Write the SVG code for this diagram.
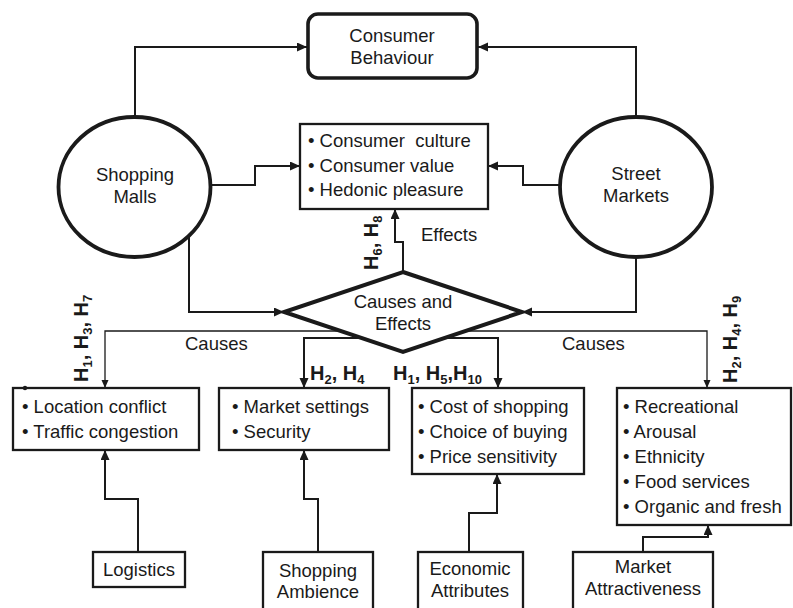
<svg xmlns="http://www.w3.org/2000/svg" width="793" height="608" viewBox="0 0 793 608">
<defs>
<marker id="ah" markerUnits="userSpaceOnUse" markerWidth="11" markerHeight="10" refX="10" refY="4.5" orient="auto"><path d="M0,0 L10,4.5 L0,9 z" fill="#1a1a1a"/></marker>
<marker id="ahs" markerUnits="userSpaceOnUse" markerWidth="9" markerHeight="8" refX="8" refY="3.5" orient="auto"><path d="M0,0 L8,3.5 L0,7 z" fill="#1a1a1a"/></marker>
</defs>
<style>
text{font-family:"Liberation Sans",Arial,sans-serif;font-size:18.5px;fill:#1a1a1a}
.c{text-anchor:middle}
.h{font-weight:bold;font-size:20px}
.s{font-size:13px}
.box{fill:#fff;stroke:#1a1a1a;stroke-width:2.3}
.ell{fill:#fff;stroke:#1a1a1a;stroke-width:3.8}
.con{fill:none;stroke:#1a1a1a;stroke-width:2;marker-end:url(#ah)}
.thin{fill:none;stroke:#1a1a1a;stroke-width:1.3;marker-end:url(#ahs)}
</style>
<rect width="793" height="608" fill="#fff"/>
<g id="connectors">
<path class="con" d="M135,117 V47 H307"/>
<path class="con" d="M636,117 V47 H478"/>
<path class="con" d="M210,185 H255 V166 H300"/>
<path class="con" d="M560,185 H523 V166 H488"/>
<path class="con" d="M189,236 V312 H284"/>
<path class="con" d="M636,257 V312 H522"/>
<path class="con" d="M403,272 V242 H395 V209"/>
<path class="thin" d="M340,331 H105 V388"/>
<path class="thin" d="M466,331 H707 V388"/>
<path class="con" d="M361,338 H304 V388"/>
<path class="con" d="M445,338 H498 V388"/>
<path class="con" d="M138,552 V499 H105 V450"/>
<path class="con" d="M318,552 V499 H304 V450"/>
<path class="con" d="M469,552 V513 H497 V474"/>
<path class="con" d="M643,552 V537 H708 V525"/>
</g>
<g id="consumer-behaviour">
<rect x="308" y="14" width="169" height="64" rx="10" fill="#fff" stroke="#1a1a1a" stroke-width="3.6"/>
<text class="c" x="392" y="42">Consumer</text>
<text class="c" x="392" y="64">Behaviour</text>
</g>
<g id="shopping-malls">
<ellipse class="ell" cx="134.5" cy="187" rx="76" ry="70"/>
<text class="c" x="135" y="181">Shopping</text>
<text class="c" x="135" y="203">Malls</text>
</g>
<g id="street-markets">
<ellipse class="ell" cx="636" cy="187" rx="76" ry="70"/>
<text class="c" x="636" y="180">Street</text>
<text class="c" x="636" y="202">Markets</text>
</g>
<g id="consumer-effects">
<rect class="box" x="300" y="124" width="188" height="85"/>
<text x="308" y="147" style="white-space:pre">• Consumer  culture</text>
<text x="308" y="172">• Consumer value</text>
<text x="308" y="196">• Hedonic pleasure</text>
</g>
<g id="causes-effects">
<polygon points="403,272 522,312 403,352 284,312" fill="#fff" stroke="#1a1a1a" stroke-width="4" stroke-linejoin="miter"/>
<text class="c" x="403" y="308">Causes and</text>
<text class="c" x="403" y="330">Effects</text>
</g>
<g id="labels">
<text x="421" y="241">Effects</text>
<text x="185" y="350">Causes</text>
<text x="562" y="350">Causes</text>
<text class="h" transform="translate(378,270) rotate(-90)">H<tspan class="s" dy="4">6</tspan><tspan dy="-4">, H</tspan><tspan class="s" dy="4">8</tspan></text>
<text class="h" transform="translate(88,382) rotate(-90)">H<tspan class="s" dy="4">1</tspan><tspan dy="-4">, H</tspan><tspan class="s" dy="4">3</tspan><tspan dy="-4">, H</tspan><tspan class="s" dy="4">7</tspan></text>
<text class="h" transform="translate(737,383) rotate(-90)">H<tspan class="s" dy="4">2</tspan><tspan dy="-4">, H</tspan><tspan class="s" dy="4">4</tspan><tspan dy="-4">, H</tspan><tspan class="s" dy="4">9</tspan></text>
<text class="h" x="310" y="380">H<tspan class="s" dy="4">2</tspan><tspan dy="-4">, H</tspan><tspan class="s" dy="4">4</tspan></text>
<text class="h" x="393" y="380">H<tspan class="s" dy="4">1</tspan><tspan dy="-4">, H</tspan><tspan class="s" dy="4">5</tspan><tspan dy="-4">,H</tspan><tspan class="s" dy="4">10</tspan></text>
</g>
<g id="logistics-factors">
<rect class="box" x="13" y="388" width="186" height="62"/>
<circle cx="25" cy="388" r="2.2" fill="#1a1a1a"/>
<text x="22" y="413">• Location conflict</text>
<text x="22" y="438">• Traffic congestion</text>
</g>
<g id="ambience-factors">
<rect class="box" x="219" y="388" width="170" height="62"/>
<text x="232" y="413">• Market settings</text>
<text x="232" y="438">• Security</text>
</g>
<g id="economic-factors">
<rect class="box" x="412" y="388" width="172" height="86"/>
<text x="418" y="413">• Cost of shopping</text>
<text x="418" y="438">• Choice of buying</text>
<text x="418" y="463">• Price sensitivity</text>
</g>
<g id="attractiveness-factors">
<rect class="box" x="617" y="388" width="174" height="137"/>
<text x="623" y="413">• Recreational</text>
<text x="623" y="438">• Arousal</text>
<text x="623" y="463">• Ethnicity</text>
<text x="623" y="488">• Food services</text>
<text x="623" y="513">• Organic and fresh</text>
</g>
<g id="logistics">
<rect class="box" x="93" y="552" width="92" height="35"/>
<text class="c" x="139" y="576">Logistics</text>
</g>
<g id="shopping-ambience">
<rect class="box" x="263" y="552" width="110" height="62"/>
<text class="c" x="318" y="577">Shopping</text>
<text class="c" x="318" y="598">Ambience</text>
</g>
<g id="economic-attributes">
<rect class="box" x="418" y="552" width="105" height="62"/>
<text class="c" x="470" y="575">Economic</text>
<text class="c" x="470" y="597">Attributes</text>
</g>
<g id="market-attractiveness">
<rect class="box" x="573" y="552" width="140" height="62"/>
<text class="c" x="643" y="573">Market</text>
<text class="c" x="643" y="595">Attractiveness</text>
</g>
</svg>
